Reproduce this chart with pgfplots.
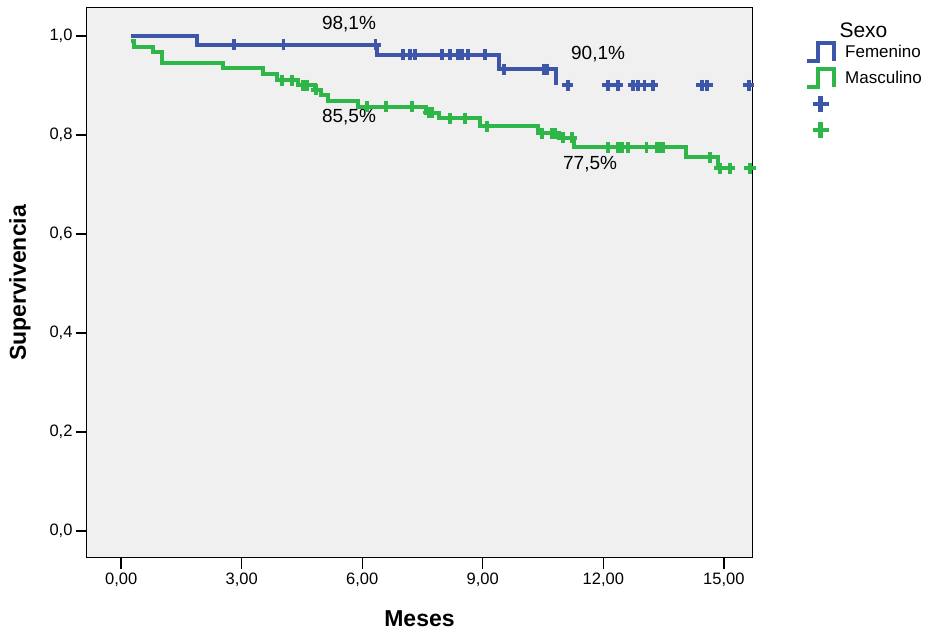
\documentclass[border=0pt]{standalone}
\usepackage{pgfplots}
\pgfplotsset{compat=1.18}
\usepackage{fontspec}
\setmainfont{Liberation Sans}
\definecolor{fem}{RGB}{62,86,170}
\definecolor{mas}{RGB}{46,182,72}
\definecolor{panel}{RGB}{240,240,240}
\pgfplotsset{
  steplegend/.style={legend image code/.code={
    \path[draw=none,fill=none] (0pt,-13pt) rectangle (27pt,13pt);
    \draw[##1] (0pt,-9pt) -- (11pt,-9pt) -- (11pt,9pt) -- (27pt,9pt) -- (27pt,-9pt);}},
  pluslegend/.style={legend image code/.code={
    \path[draw=none,fill=none] (0pt,-13pt) rectangle (27pt,13pt);
    \draw[##1] plot coordinates {(13.5pt,0pt)};}},
}
\begin{document}
\begin{tikzpicture}
\begin{axis}[
  scale only axis, width=665pt, height=550pt,
  xmin=-0.85, xmax=15.7, ymin=-0.0545, ymax=1.0566,
  axis background/.style={fill=panel},
  axis line style={black, line width=1pt},
  xtick={0,3,6,9,12,15},
  xticklabels={{0,00},{3,00},{6,00},{9,00},{12,00},{15,00}},
  ytick={0,0.2,0.4,0.6,0.8,1},
  yticklabels={{0,0},{0,2},{0,4},{0,6},{0,8},{1,0}},
  tick align=outside, major tick length=11pt,
  tick style={black, line width=1.4pt},
  xtick pos=bottom, ytick pos=left,
  tick label style={font=\fontsize{16.5}{19}\selectfont},
  xlabel={Meses}, ylabel={Supervivencia},
  label style={font=\fontsize{23}{27}\selectfont\bfseries},
  xlabel style={at={(axis description cs:0.5,-0.111)}, anchor=center},
  ylabel style={at={(axis description cs:-0.1008,0.5)}, anchor=center},
  legend style={at={(axis description cs:1.0797,0.9436)}, anchor=north west,
    draw=none, fill=none, inner sep=0pt, row sep=0pt,
    font=\fontsize{17}{20}\selectfont, nodes={inner sep=3pt},
    /tikz/every odd column/.style={column sep=6pt}},
  legend cell align=left,
]
% legend images
\addlegendimage{fem, line width=4pt, steplegend}
\addlegendentry{Femenino}
\addlegendimage{mas, line width=4pt, steplegend}
\addlegendentry{Masculino}
\addlegendimage{fem, only marks, mark=+, mark size=8pt, line width=4.5pt, pluslegend}
\addlegendentry{}
\addlegendimage{mas, only marks, mark=+, mark size=8pt, line width=4.5pt, pluslegend}
\addlegendentry{}

% Masculino step curve
\addplot[mas, line width=4pt, const plot, forget plot] coordinates {
 (0.25,0.990) (0.32,0.978) (0.80,0.967) (1.01,0.946) (2.54,0.935) (3.52,0.923)
 (3.88,0.911) (4.40,0.901) (4.83,0.891) (4.98,0.881) (5.15,0.869) (5.90,0.857)
 (7.59,0.845) (7.91,0.834) (8.93,0.818) (10.37,0.804) (10.90,0.794) (11.27,0.775)
 (14.05,0.755) (14.85,0.733) (15.15,0.733)};
% Femenino step curve
\addplot[fem, line width=4pt, const plot, forget plot] coordinates {
 (0.25,1.000) (1.89,0.982) (6.36,0.962) (9.40,0.933) (10.82,0.901)};
% censored marks
\addplot[mas, only marks, mark=+, mark size=5.5pt, mark options={line width=3.5pt}, forget plot] coordinates {
 (4.00,0.911) (4.25,0.911) (4.53,0.901) (4.63,0.901) (4.85,0.891)
 (6.12,0.857) (6.59,0.857) (7.24,0.857) (7.66,0.845) (7.74,0.845)
 (8.18,0.834) (8.56,0.834) (9.10,0.818) (10.47,0.804) (10.72,0.804) (10.80,0.804)
 (11.00,0.794) (11.22,0.794) (12.11,0.775) (12.36,0.775) (12.46,0.775) (12.61,0.775)
 (13.08,0.775) (13.33,0.775) (13.41,0.775) (13.48,0.775) (14.65,0.755)
 (14.90,0.733) (15.15,0.733) (15.65,0.733)};
\addplot[fem, only marks, mark=+, mark size=5.5pt, mark options={line width=3.5pt}, forget plot] coordinates {
 (2.81,0.982) (4.04,0.982) (6.33,0.982)
 (7.01,0.962) (7.19,0.962) (7.31,0.962) (7.99,0.962) (8.18,0.962) (8.38,0.962)
 (8.48,0.962) (8.63,0.962) (9.05,0.962)
 (9.53,0.933) (10.52,0.933) (10.60,0.933)
 (11.12,0.901) (12.11,0.901) (12.36,0.901) (12.74,0.901) (12.86,0.901) (13.03,0.901)
 (13.23,0.901) (14.45,0.901) (14.58,0.901) (15.62,0.901)};
% percentage labels
\node[font=\fontsize{19}{22}\selectfont] at (axis cs:5.67,1.024) {98,1\%};
\node[font=\fontsize{19}{22}\selectfont] at (axis cs:11.87,0.964) {90,1\%};
\node[font=\fontsize{19}{22}\selectfont] at (axis cs:5.67,0.836) {85,5\%};
\node[font=\fontsize{19}{22}\selectfont] at (axis cs:11.67,0.741) {77,5\%};
\coordinate (sw) at (rel axis cs:0,0);
\coordinate (ne) at (rel axis cs:1,1);
\end{axis}
\node[font=\fontsize{21}{25}\selectfont, anchor=west] at ([xshift=84pt,yshift=-22pt]ne) {Sexo};
\pgfresetboundingbox
\path ([xshift=-87pt,yshift=-76pt]sw) rectangle ([xshift=179pt,yshift=8pt]ne);
\end{tikzpicture}
\end{document}
